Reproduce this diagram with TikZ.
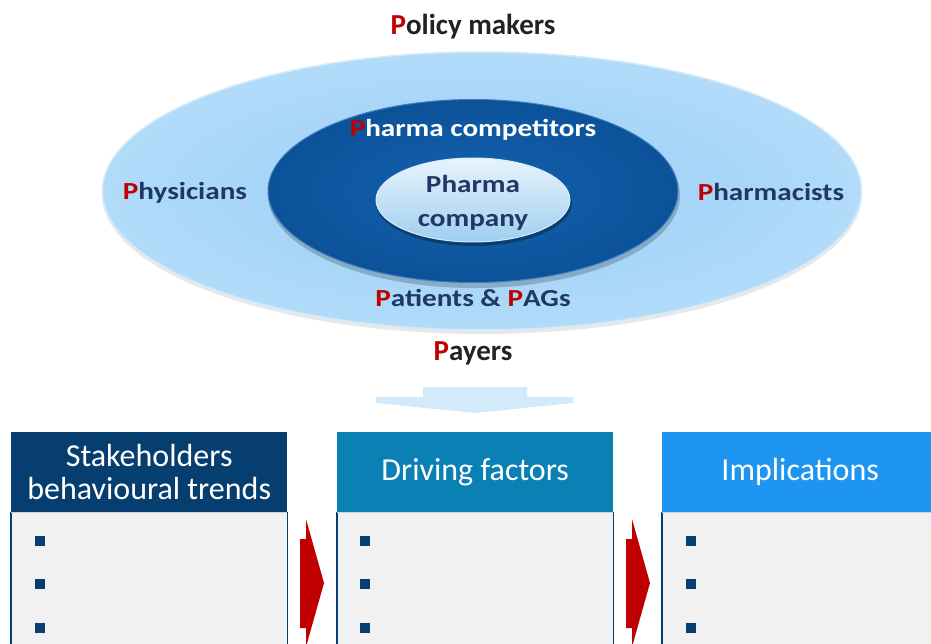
\documentclass[tikz,border=0pt]{standalone}
\usepackage{fontspec}
\setmainfont{Carlito}
\newfontfamily\widefont{Carlito}[FakeStretch=1.19]
\usetikzlibrary{shapes.geometric,shadings}
\definecolor{pred}{HTML}{C00000}
\definecolor{navyhdr}{HTML}{063F6F}
\definecolor{tealhdr}{HTML}{0A80B4}
\definecolor{skyhdr}{HTML}{1E95F0}
\definecolor{bodygray}{HTML}{F1F1F1}
\definecolor{lblnavy}{HTML}{1F3864}
\definecolor{arrowblue}{HTML}{D3EAFB}
\definecolor{topblack}{HTML}{222222}
\definecolor{sepline}{HTML}{C8D4E1}
\definecolor{outin}{HTML}{98CEF6}
\definecolor{outout}{HTML}{B2DBF9}
\definecolor{outrim}{HTML}{D2EAFC}
\definecolor{midin}{HTML}{1462B0}
\definecolor{midout}{HTML}{0C5299}
\definecolor{midrim}{HTML}{3C7DC0}
\definecolor{intop}{HTML}{E8F4FC}
\definecolor{inbot}{HTML}{A0CEF0}
\definecolor{inrim}{HTML}{D7EBFA}
\tikzset{
  lbl/.style={inner sep=0pt, font=\widefont\bfseries\fontsize{24.5}{34}\selectfont, text=lblnavy},
  toplbl/.style={inner sep=0pt, font=\bfseries\fontsize{29}{34}\selectfont, text=topblack},
  hdr/.style={minimum width=276pt, minimum height=80pt, text=white, inner sep=0pt,
    font=\fontsize{32}{33}\selectfont, align=center, anchor=north west},
  bodybox/.style={minimum width=276pt, minimum height=140pt, fill=bodygray, inner sep=0pt, anchor=north west},
  bul/.style={fill=navyhdr, minimum size=9.5pt, inner sep=0pt},
  redarrow/.style={fill=pred},
}
\begin{document}
\begin{tikzpicture}[x=1pt,y=-1pt]
\useasboundingbox (0,0) rectangle (931,644);
\clip (0,0) rectangle (931,644);
% ellipses
\fill[gray, opacity=0.18] (482,194) ellipse [x radius=380, y radius=140];
\node[ellipse, minimum width=759pt, minimum height=278pt, inner sep=0pt,
  inner color=outin, outer color=outout, draw=outrim, line width=1.5pt] (outer) at (482,191) {};
\fill[black, opacity=0.2] (474,195) ellipse [x radius=206, y radius=93];
\node[ellipse, minimum width=410pt, minimum height=183pt, inner sep=0pt,
  inner color=midin, outer color=midout, draw=midrim, line width=1pt] (mid) at (473,191) {};
\fill[black, opacity=0.3] (474,203) ellipse [x radius=98, y radius=43];
\node[ellipse, minimum width=194pt, minimum height=84pt, inner sep=0pt,
  top color=intop, bottom color=inbot, draw=inrim, line width=1pt] (inner) at (473,200) {};
% labels
\node[toplbl] (policy) at (473,27) {\textcolor{pred}{P}olicy makers};
\node[lbl, text=white] (comp) at (473,130) {\textcolor{pred}{P}harma competitors};
\node[lbl] (phys) at (185,193) {\textcolor{pred}{P}hysicians};
\node[lbl] (pharm) at (771,192) {\textcolor{pred}{P}harmacists};
\node[lbl, align=center] (company) at (473,203) {Pharma\\company};
\node[lbl] (patients) at (473,298) {\textcolor{pred}{P}atients \& \textcolor{pred}{P}AGs};
\node[toplbl] (payers) at (473,353) {\textcolor{pred}{P}ayers};
% down arrow
\fill[arrowblue] (423,387) -- (527,387) -- (527,397) -- (573,397) -- (573,403) -- (475,413) -- (376,403) -- (376,397) -- (423,397) -- cycle;
% boxes
\node[hdr, fill=navyhdr] (h1) at (11,432) {Stakeholders\\behavioural trends};
\node[hdr, fill=tealhdr] (h2) at (337,432) {Driving factors};
\node[hdr, fill=skyhdr] (h3) at (662,432) {Implications};
\foreach \i in {1,2,3}{
  \node[bodybox] (b\i) at (h\i.south west) {};
  \draw[navyhdr, line width=1.5pt] (b\i.north west) -- (b\i.south west);
  \draw[navyhdr, line width=1.5pt] (b\i.north east) -- (b\i.south east);
  \draw[sepline, line width=1pt] (b\i.north west) -- (b\i.north east);
}
\foreach \i/\x in {1/40,2/365,3/691}{
  \node[bul] (bu\i a) at (\x,541) {};
  \node[bul] (bu\i b) at (\x,584) {};
  \node[bul] (bu\i c) at (\x,628) {};
}
% red arrows
\fill[redarrow] (300,539) -- (306,539) -- (306,519) -- (324,583) -- (306,647) -- (306,628) -- (300,628) -- cycle;
\fill[redarrow] (626,539) -- (632,539) -- (632,519) -- (650,583) -- (632,647) -- (632,628) -- (626,628) -- cycle;
\end{tikzpicture}
\end{document}
